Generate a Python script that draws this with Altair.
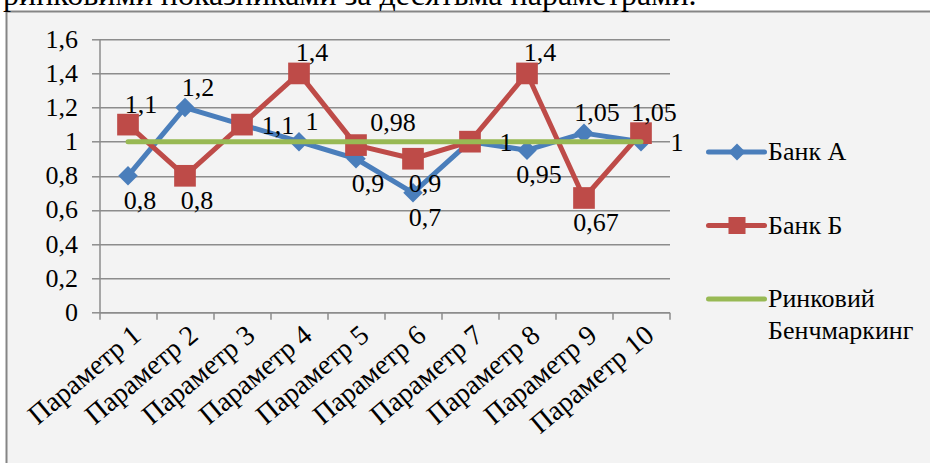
import json
import altair as alt
import pandas as pd

# ---------------- data ----------------
categories = ["Параметр 1", "Параметр 2", "Параметр 3", "Параметр 4", "Параметр 5",
              "Параметр 6", "Параметр 7", "Параметр 8", "Параметр 9", "Параметр 10"]
series_names = ["Банк А", "Банк Б", "Ринковий Бенчмаркинг"]
legend_labels = ["Банк А", "Банк Б", "Ринковий\nБенчмаркинг"]
bank_a = [0.8, 1.2, 1.1, 1.0, 0.9, 0.7, 1.0, 0.95, 1.05, 1.0]
bank_b = [1.1, 0.8, 1.1, 1.4, 0.98, 0.9, 1.0, 1.4, 0.67, 1.05]
benchmark = [1, 1, 1, 1, 1, 1, 1, 1, 1, 1]
y_ticks = [0, 0.2, 0.4, 0.6, 0.8, 1, 1.2, 1.4, 1.6]
caption = "ринковими показниками за десятьма параметрами."

# which data labels are shown, grouped by where they sit relative to the point
labels_above = [("Банк А", 2), ("Банк А", 4), ("Банк А", 9), ("Банк Б", 1),
                ("Банк Б", 4), ("Банк Б", 8), ("Банк Б", 10)]
labels_below = [("Банк А", 1), ("Банк А", 5), ("Банк А", 6), ("Банк А", 8),
                ("Банк Б", 2), ("Банк Б", 6), ("Банк Б", 9)]
labels_right = [("Банк А", 7), ("Банк А", 10), ("Банк Б", 3)]
labels_upper_right = [("Банк Б", 5)]

colors = ["#4A7EBB", "#BE4B48", "#98B954"]

rows = []
for s, vals in zip(series_names, [bank_a, bank_b, benchmark]):
    for i, (c, v) in enumerate(zip(categories, vals)):
        rows.append({"series": s, "category": c, "idx": i + 1, "value": v,
                     "label": f"{v:g}".replace(".", ",")})
df = pd.DataFrame(rows)


def subset(pairs):
    keys = set(pairs)
    return df[[(s, i) in keys for s, i in zip(df["series"], df["idx"])]]


legend_df = pd.DataFrame({"series": series_names, "label": legend_labels})

# ---------------- layout ----------------
W, H = 570, 273
PL, PT = 99.5, 39.3
FONT = "Liberation Serif"
GRAY = "#8c8c8c"

half_ticks = [i + 0.5 for i in range(0, 11)]
int_ticks = list(range(1, 11))
label_expr = ("datum.value % 1 === 0 ? " + json.dumps(categories, ensure_ascii=False)
              + "[datum.value - 1] : ''")

x_enc = alt.X("idx:Q",
              scale=alt.Scale(domain=[0.5, 10.5], nice=False, zero=False),
              axis=alt.Axis(values=half_ticks + int_ticks, labelExpr=label_expr,
                            title=None, grid=False, labelOverlap=False,
                            tickOpacity={"condition": {"test": "datum.value % 1 === 0", "value": 0}, "value": 1},
                            labelAngle=-40, labelAlign="right", labelBaseline="middle",
                            labelPadding=12, labelOffset=9,
                            labelFont=FONT, labelFontSize=28, labelColor="black",
                            domainColor=GRAY, domainWidth=1.5, tickColor=GRAY,
                            tickWidth=1.5, tickSize=7))
y_enc = alt.Y("value:Q",
              scale=alt.Scale(domain=[0, 1.6], nice=False),
              axis=alt.Axis(values=y_ticks, title=None,
                            labelExpr="replace(format(datum.value, '~g'), '.', ',')",
                            grid=True, gridColor=GRAY, gridWidth=1.5,
                            domainColor=GRAY, domainWidth=1.5, tickColor=GRAY,
                            tickWidth=1.5, tickSize=8, labelPadding=14,
                            labelFont=FONT, labelFontSize=26, labelColor="black"))
color_enc = alt.Color("series:N", scale=alt.Scale(domain=series_names, range=colors),
                      legend=None)

base = alt.Chart(df).encode(x=x_enc, y=y_enc, color=color_enc)

line_a = base.transform_filter(alt.datum.series == series_names[0]).mark_line(
    strokeWidth=5, strokeCap="round", strokeJoin="round")
pts_a = base.transform_filter(alt.datum.series == series_names[0]).mark_point(
    shape="diamond", size=380, filled=True, opacity=1)
line_b = base.transform_filter(alt.datum.series == series_names[1]).mark_line(
    strokeWidth=5, strokeCap="round", strokeJoin="round")
pts_b = base.transform_filter(alt.datum.series == series_names[1]).mark_point(
    shape="square", size=470, filled=True, opacity=1)
line_g = base.transform_filter(alt.datum.series == series_names[2]).mark_line(
    strokeWidth=5, strokeCap="round")


def label_layer(pairs, dx, dy):
    return alt.Chart(subset(pairs)).mark_text(
        font=FONT, fontSize=26, color="black", align="center", baseline="middle",
        dx=dx, dy=dy).encode(x=x_enc, y=y_enc, text="label:N")


labels = (label_layer(labels_above, 13, -20) + label_layer(labels_below, 12, 25)
          + label_layer(labels_right, 36, 1) + label_layer(labels_upper_right, 37, -22))

main = alt.layer(line_a, pts_a, line_b, pts_b, line_g, labels)

# ---------------- frame / caption ----------------
one = pd.DataFrame({"a": [0]})
white_top = alt.Chart(one).mark_rect(color="white").encode(
    x=alt.value(-PL), x2=alt.value(940), y=alt.value(-PT), y2=alt.value(11 - PT))
white_left = alt.Chart(one).mark_rect(color="white").encode(
    x=alt.value(-PL), x2=alt.value(6 - PL), y=alt.value(-PT), y2=alt.value(470))
border_top = alt.Chart(one).mark_rule(color="#858585", strokeWidth=2).encode(
    x=alt.value(6.5 - PL), x2=alt.value(940), y=alt.value(11.5 - PT))
border_left = alt.Chart(one).mark_rule(color="#858585", strokeWidth=2).encode(
    x=alt.value(6.5 - PL), y=alt.value(11.5 - PT), y2=alt.value(470))
cap = alt.Chart(one).mark_text(font=FONT, fontSize=32, color="black", align="left",
                               baseline="alphabetic").encode(
    x=alt.value(3 - PL), y=alt.value(5 - PT), text=alt.value(caption))

# ---------------- legend ----------------
leg_y = alt.Y("series:N", scale=alt.Scale(type="point", domain=series_names,
                                          range=[112.7, 259.7], padding=0), axis=None)
leg_line = alt.Chart(legend_df).mark_rule(strokeWidth=5, strokeCap="round").encode(
    x=alt.value(609), x2=alt.value(665), y=leg_y, color=color_enc)
leg_pts = alt.Chart(legend_df).transform_filter(
    alt.datum.series != series_names[2]).mark_point(filled=True, opacity=1, size=290).encode(
    x=alt.value(637.5), y=leg_y, color=color_enc,
    shape=alt.Shape("series:N", scale=alt.Scale(domain=series_names[:2],
                                                range=["diamond", "square"]), legend=None))
leg_txt = alt.Chart(legend_df).mark_text(font=FONT, fontSize=26, color="black",
                                         align="left", baseline="alphabetic", dy=8,
                                         lineBreak="\n", lineHeight=32).encode(
    x=alt.value(668.5), y=leg_y, text="label:N")
legend = alt.layer(leg_line, leg_pts, leg_txt)

chart = alt.layer(white_top, white_left, border_top, border_left, cap, main, legend).resolve_scale(
    y="independent").properties(
    width=W, height=H, autosize=alt.AutoSizeParams(type="none"),
    padding={"left": PL, "top": PT, "right": 930 - PL - W, "bottom": 463 - PT - H},
    background="#f3f3f3").configure_view(stroke=None)

chart.save("out.html", embed_options={"renderer": "svg", "actions": False})
